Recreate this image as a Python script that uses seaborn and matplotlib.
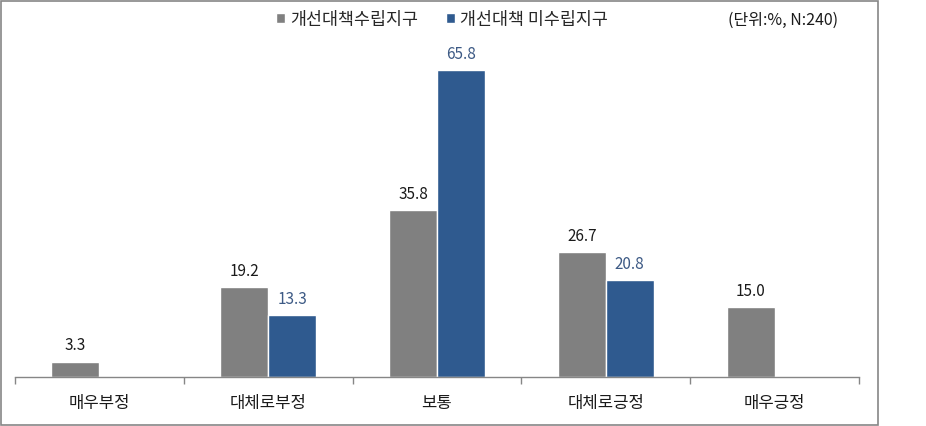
import matplotlib
matplotlib.use("Agg")
import matplotlib.pyplot as plt
from matplotlib.patches import Rectangle
import seaborn as sns
import pandas as pd
import numpy as np

categories = ["매우부정", "대체로부정", "보통", "대체로긍정", "매우긍정"]
series_names = ["개선대책수립지구", "개선대책 미수립지구"]
values_a = [3.3, 19.2, 35.8, 26.7, 15.0]
values_b = [np.nan, 13.3, 65.8, 20.8, np.nan]
colors = ["#808080", "#2F5A8F"]
label_colors = ["#1a1a1a", "#3D5A85"]

sns.set_theme(style="white")
plt.rcParams['font.family'] = ['Noto Sans CJK KR', 'DejaVu Sans']

df = pd.DataFrame({
    "cat": categories * 2,
    "series": [series_names[0]] * 5 + [series_names[1]] * 5,
    "value": values_a + values_b,
})

fig = plt.figure(figsize=(9.26, 4.27), dpi=100)
ax = fig.add_axes([15/926, 49/427, 844/926, 326.6/427])

sns.barplot(data=df, x="cat", y="value", hue="series", order=categories,
            hue_order=series_names, palette=colors, width=0.568, gap=0,
            errorbar=None, ax=ax, legend=True, saturation=1)

ax.set_ylim(0, 70)
ax.set_xlim(-0.5, 4.5)
ax.set_xlabel("")
ax.set_ylabel("")
ax.set_yticks([])
for s in ["top", "right", "left"]:
    ax.spines[s].set_visible(False)
ax.spines["bottom"].set_color("#868686")
ax.spines["bottom"].set_linewidth(1)
ax.set_xticks(np.arange(-0.5, 5, 1), minor=True)
ax.tick_params(axis="x", which="minor", length=5, color="#868686", width=1, direction="out", bottom=True)
ax.tick_params(axis="x", which="major", length=0, pad=12, labelsize=12, labelcolor="#1a1a1a")

for i, cont in enumerate(ax.containers):
    for p in cont:
        if p is None or np.isnan(p.get_height()):
            continue
        ax.annotate(f"{p.get_height():.1f}", (p.get_x() + p.get_width() / 2, p.get_height()),
                    xytext=(0, 6), textcoords="offset points", ha="center", va="bottom",
                    fontsize=11, color=label_colors[i])

leg = ax.get_legend()
handles = leg.legend_handles
leg.remove()
fig.legend(handles, series_names, loc="center", bbox_to_anchor=(442/926, 1 - 20/427),
           ncol=2, frameon=False, fontsize=12.5, handlelength=0.5, handleheight=0.5,
           handletextpad=0.3, columnspacing=1.6)

fig.text(783/926, 1 - 20/427, "(단위:%, N:240)", ha="center", va="center", fontsize=11.5, color="#1a1a1a")

fig.patches.append(Rectangle((0.5/926, 1 - 425.5/427), 877/926, 424/427, transform=fig.transFigure,
                             fill=False, edgecolor="#868686", linewidth=1.2))

fig.savefig("out.png", dpi=100)
